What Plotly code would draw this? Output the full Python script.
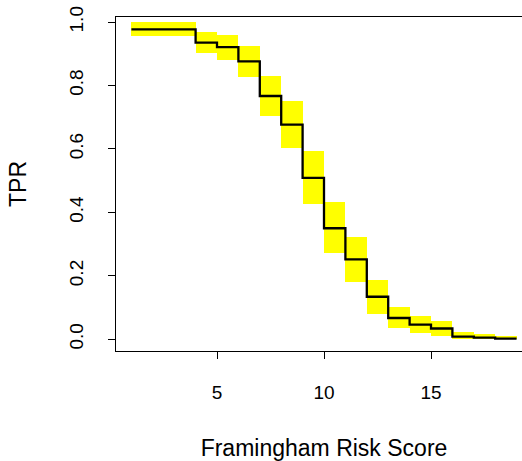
import plotly.graph_objects as go

# Step function: TPR at each Framingham Risk Score (x = 1..19)
score = list(range(1, 20))
tpr = [0.977, 0.977, 0.977, 0.935, 0.921, 0.876, 0.767, 0.677, 0.509, 0.350,
       0.252, 0.134, 0.067, 0.046, 0.034, 0.0085, 0.005, 0.002, 0.002]
# Confidence band per interval [score[i], score[i+1]]
band_lo = [0.955, 0.955, 0.955, 0.901, 0.880, 0.827, 0.704, 0.603, 0.425, 0.272,
           0.180, 0.081, 0.036, 0.020, 0.010, 0.000, 0.000, 0.000]
band_hi = [1.000, 1.000, 1.000, 0.969, 0.958, 0.925, 0.830, 0.751, 0.593, 0.432,
           0.322, 0.186, 0.102, 0.073, 0.058, 0.024, 0.016, 0.0095]

x_ticks = [5, 10, 15]
y_ticks = [0.0, 0.2, 0.4, 0.6, 0.8, 1.0]

FONT = "Liberation Sans, Arial, sans-serif"
FS = 19

fig = go.Figure()
fig.add_trace(go.Bar(
    x=score[:-1], base=band_lo,
    y=[h - l for h, l in zip(band_hi, band_lo)],
    width=1, offset=0,
    marker=dict(color="#FFFF00", line=dict(width=0)),
    hoverinfo="skip", showlegend=False,
))
fig.add_trace(go.Scatter(
    x=score, y=tpr, mode="lines",
    line=dict(color="black", width=2.3, shape="hv"),
    hoverinfo="skip", showlegend=False,
))

# The plot box extends past the right edge of the window, as in the reference
fig.update_layout(
    width=532, height=461,
    margin=dict(l=116, r=0, t=17, b=110),
    paper_bgcolor="white", plot_bgcolor="white",
    font=dict(family=FONT, size=FS, color="black"),
    bargap=0,
    hovermode=False,
    xaxis=dict(
        range=[0.28, 19.72], tickvals=x_ticks, ticktext=[str(v) for v in x_ticks],
        showgrid=False, zeroline=False, automargin=False,
        showline=True, linecolor="black", linewidth=1, mirror=True,
        ticks="outside", ticklen=7, tickcolor="black", tickwidth=1,
        ticklabelstandoff=17, ticklabeloverflow="allow",
        title=dict(text="Framingham Risk Score", standoff=50),
    ),
    yaxis=dict(
        range=[-0.037, 1.016], tickvals=y_ticks,
        ticktext=[f"{v:.1f}" for v in y_ticks],
        showgrid=False, zeroline=False, automargin=False,
        showline=True, linecolor="black", linewidth=1, mirror=True,
        ticks="outside", ticklen=7, tickcolor="black", tickwidth=1,
        tickangle=-90, ticklabelstandoff=17, ticklabeloverflow="allow",
        title=dict(text="TPR", standoff=33),
    ),
)

fig.write_html(
    "out.html",
    config={"displayModeBar": False},
    post_script="document.body.style.margin='0';document.body.style.overflow='hidden';",
)
